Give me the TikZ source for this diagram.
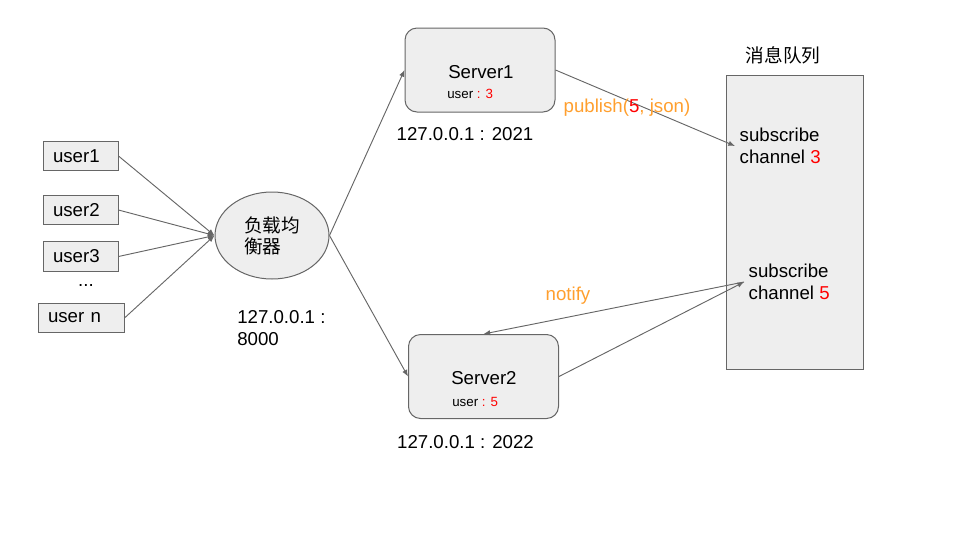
\documentclass[tikz,border=0pt]{standalone}
\usepackage{fontspec}
\setmainfont{Liberation Sans}
\newfontfamily\cjk{Noto Sans CJK SC}
\usetikzlibrary{arrows.meta,positioning,shapes.geometric}
\definecolor{edge}{HTML}{666666}
\definecolor{boxfill}{HTML}{EEEEEE}
\definecolor{hot}{HTML}{FF0000}
\definecolor{msg}{HTML}{FF9F2E}

\begin{document}
\begin{tikzpicture}[x=0.75pt,y=-0.75pt,font=\fontsize{14pt}{16.5pt}\selectfont,
  userbox/.style={rectangle,draw=edge,fill=boxfill,line width=0.75pt,inner xsep=7.5pt,inner ysep=0pt,
    minimum height=22pt,align=left},
  srv/.style={rectangle,rounded corners=9pt,draw=edge,fill=boxfill,line width=0.75pt,
    minimum width=112.5pt,minimum height=63pt},
  lbl/.style={inner sep=0pt,anchor=west},
  small/.style={font=\fontsize{10pt}{12pt}\selectfont},
  conn/.style={draw=edge,line width=0.7pt,-{Latex[length=5pt,width=4pt]}}]
\useasboundingbox (0,0) rectangle (960,540);

% users
\node[userbox,text width=41.25pt] (u1) at (80.5,156) {user1};
\node[userbox,text width=41.25pt] (u2) at (80.5,210) {user2};
\node[userbox,text width=41.25pt] (u3) at (80.5,256.5) {user3};
\node (dots) at (86,285) {...};
\node[userbox,text width=49.5pt] (un) at (81,318) {user n};

% load balancer
\node[ellipse,draw=edge,fill=boxfill,line width=0.75pt,minimum width=85.5pt,minimum height=65.25pt,
  align=left,font=\cjk\fontsize{14pt}{15.75pt}\selectfont] (lb) at (272,235.5) {负载均\\衡器};
\node[align=left,anchor=north west,inner sep=0pt] (lbaddr) at (237,310) {127.0.0.1 :\\8000};

% servers
\node[srv] (s1) at (480,70) {};
\node[lbl] (s1name) at (448,72) {Server1};
\node[lbl,small] (s1user) at (447,94) {user \textcolor{hot}{: 3}};
\node (addr1) at (465,134) {127.0.0.1 : 2021};

\node[srv] (s2) at (483.5,376.5) {};
\node[lbl] (s2name) at (451,378) {Server2};
\node[lbl,small] (s2user) at (452,402) {user \textcolor{hot}{: 5}};
\node (addr2) at (465.5,442) {127.0.0.1 : 2022};

% message queue
\node[rectangle,draw=edge,fill=boxfill,line width=0.75pt,minimum width=102.75pt,minimum height=220.5pt] (mq) at (794.5,222) {};
\node[font=\cjk\fontsize{14pt}{16pt}\selectfont] (mqtitle) at (783,55) {消息队列};
\node[align=left,anchor=west] (sub3) at (735,146) {subscribe\\channel \textcolor{hot}{3}};
\node[align=left,anchor=west] (sub5) at (744,282) {subscribe\\channel \textcolor{hot}{5}};

% connectors
\foreach \u in {u1,u2,u3,un}
  \draw[conn] (\u.east) -- (lb.west);
\draw[conn] (lb.east) -- (s1.west);
\draw[conn] (lb.east) -- (s2.west);
\draw[conn] (s1.east) -- (sub3.west);
\draw[conn] (s2.east) -- (sub5.west);
\draw[conn] (sub5.west) -- (s2.north);

\node[text=msg] (publish) at (627,108) {publish(\textcolor{hot}{5}, json)};
\node[text=msg] (notify) at (568,296) {notify};
\end{tikzpicture}
\end{document}
